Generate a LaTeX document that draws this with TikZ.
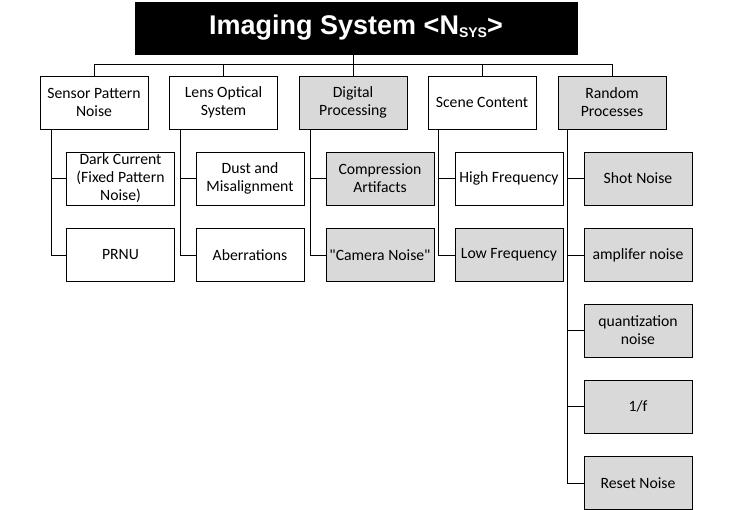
\documentclass[tikz,border=0pt]{standalone}
\usepackage{fontspec}
\setmainfont{Carlito}[Ligatures=TeXOff]
\newfontfamily\titlefont{Liberation Sans}
\begin{document}
\begin{tikzpicture}[x=1pt,y=-1pt,
  box/.style={draw=black, line width=0.8pt, minimum width=108pt, minimum height=53pt,
    inner sep=1pt, align=center, font=\fontsize{15.7}{18}\selectfont},
  gbox/.style={box, fill=gray!30},
  wbox/.style={box, fill=white},
  conn/.style={draw=black, line width=0.8pt}]
\useasboundingbox (0,0) rectangle (732,510);
% title
\node[draw=black, fill=black, minimum width=442pt, minimum height=52pt, inner sep=0pt,
  text=white, font=\titlefont\bfseries\fontsize{27}{30}\selectfont] (title) at (356,28)
  {Imaging System <N\raisebox{-3pt}{\fontsize{14}{14}\selectfont SYS}>};
% level 1
\node[wbox] (sp) at (94,102.5) {Sensor Pattern\\Noise};
\node[wbox] (lo) at (223.5,102.5) {Lens Optical\\System};
\node[gbox] (dp) at (353,102.5) {Digital\\Processing};
\node[wbox] (sc) at (482,102.5) {Scene Content};
\node[gbox] (rp) at (612,102.5) {Random\\Processes};
% level 2
\node[wbox] (dc) at (120.5,178.5) {Dark Current\\(Fixed Pattern\\Noise)};
\node[wbox] (prnu) at (120.5,255) {PRNU};
\node[wbox] (dm) at (250,178.5) {Dust and\\Misalignment};
\node[wbox] (ab) at (250,255) {Aberrations};
\node[gbox] (ca) at (380,178.5) {Compression\\Artifacts};
\node[gbox] (cn) at (380,255) {"Camera Noise"};
\node[wbox] (hf) at (509,178.5) {High Frequency};
\node[gbox] (lf) at (509,255) {Low Frequency};
\node[gbox] (sn) at (638,178.5) {Shot Noise};
\node[gbox] (an) at (638,255) {amplifer noise};
\node[gbox] (qn) at (638,330.5) {quantization\\noise};
\node[gbox] (of) at (638,406.5) {1/f};
\node[gbox] (rn) at (638,483) {Reset Noise};
% bus
\coordinate (bus) at (353,64);
\draw[conn] (bus |- title.south) -- (bus);
\draw[conn] (sp.north) -- (sp.north |- bus) -- (rp.north |- bus) -- (rp.north);
\draw[conn] (lo.north) -- (lo.north |- bus);
\draw[conn] (dp.north) -- (dp.north |- bus);
\draw[conn] (sc.north) -- (sc.north |- bus);
% children connectors
\draw[conn] ([xshift=12pt]sp.south west) |- (dc.west);
\draw[conn] ([xshift=12pt]sp.south west) |- (prnu.west);
\draw[conn] ([xshift=11pt]lo.south west) |- (dm.west);
\draw[conn] ([xshift=11pt]lo.south west) |- (ab.west);
\draw[conn] ([xshift=12pt]dp.south west) |- (ca.west);
\draw[conn] ([xshift=12pt]dp.south west) |- (cn.west);
\draw[conn] ([xshift=11pt]sc.south west) |- (hf.west);
\draw[conn] ([xshift=11pt]sc.south west) |- (lf.west);
\draw[conn] ([xshift=10pt]rp.south west) |- (sn.west);
\draw[conn] ([xshift=10pt]rp.south west) |- (an.west);
\draw[conn] ([xshift=10pt]rp.south west) |- (qn.west);
\draw[conn] ([xshift=10pt]rp.south west) |- (of.west);
\draw[conn] ([xshift=10pt]rp.south west) |- (rn.west);
\end{tikzpicture}
\end{document}
